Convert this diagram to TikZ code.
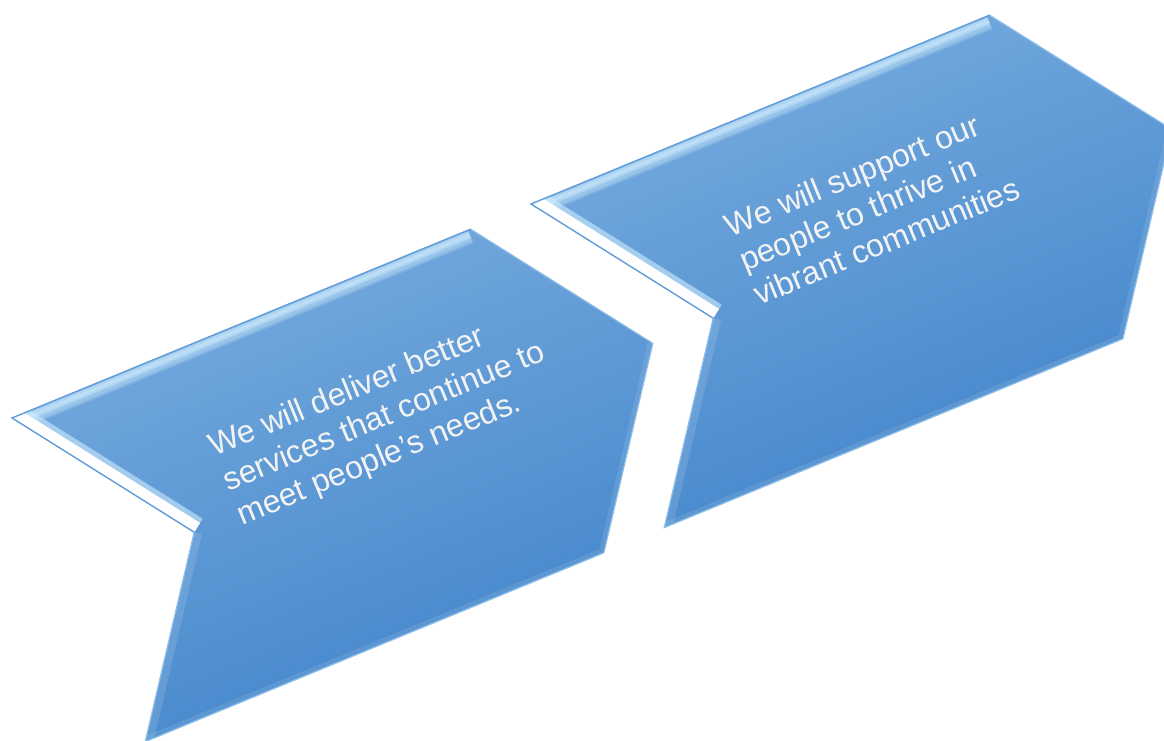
\documentclass[tikz,border=0pt]{standalone}
\usepackage{fontspec}
\setmainfont{Liberation Sans}
\definecolor{chevtop}{RGB}{120,172,223}
\definecolor{chevbottom}{RGB}{64,132,202}
\definecolor{chevrim}{RGB}{140,190,234}
\definecolor{chevline}{RGB}{96,156,218}
\definecolor{glint}{RGB}{206,236,253}
\definecolor{captext}{RGB}{243,243,243}
\tikzset{
  chevbody/.style={top color=chevtop,bottom color=chevbottom,shading angle=22.38},
  rim/.style={draw=chevrim,line width=1.2pt,line join=miter},
  litrim/.style={draw=chevline,line width=1.4pt,line join=miter},
  caption/.style={font=\fontsize{32}{37}\selectfont,text=captext,align=left,
                  inner sep=0pt,transform shape},
}

\begin{document}
\begin{tikzpicture}[x=1pt,y=1pt]
  \path[use as bounding box] (0,0) rectangle (1164,740);
  \clip (0,0) rectangle (1164,740);

  % two bevelled chevrons, tilted along the top edge
  \foreach \ox/\oy/\bl/\nm/\txt in {
      12/322/-187/deliver/{We will deliver better\\services that continue to\\meet people’s needs.},
      531/536/-181/support/{We will support our\\people to thrive in\\vibrant communities}} {
    \begin{scope}[shift={(\ox,\oy)},rotate=22.38]
      \shade[chevbody] (0,0) -- (496,0) -- (621,-175) -- (496,-350) -- (0,-350) -- (125,-175) -- cycle;
      \begin{scope}
        \clip (0,0) -- (496,0) -- (621,-175) -- (496,-350) -- (0,-350) -- (125,-175) -- cycle;
        % lit top edge
        \draw[glint,opacity=.22,line width=28] (0,0) -- (493,0);
        \draw[glint,opacity=.3,line width=14] (4,-5) -- (493,-5);
        \draw[glint,opacity=.45,line width=7] (4,-5) -- (493,-5);
        \draw[glint,opacity=.4,line width=3] (4,-5) -- (493,-5);
        % bright notch edge
        \draw[glint,opacity=.6,line width=32] (0,0) -- (125,-175);
        \draw[white,line width=22] (0,0) -- (125,-175);
        % soft lower edges
        \draw[white,opacity=.12,line width=16] (125,-175) -- (0,-350);
        \draw[white,opacity=.10,line width=10] (0,-350) -- (496,-350) -- (621,-175);
      \end{scope}
      \draw[rim] (496,0) -- (621,-175) -- (496,-350) -- (0,-350) -- (125,-175);
      \draw[litrim] (125,-175) -- (0,0) -- (496,0);
      \node[caption,anchor=base west] (\nm) at (172,\bl) {\txt};
    \end{scope}
  }
\end{tikzpicture}
\end{document}
